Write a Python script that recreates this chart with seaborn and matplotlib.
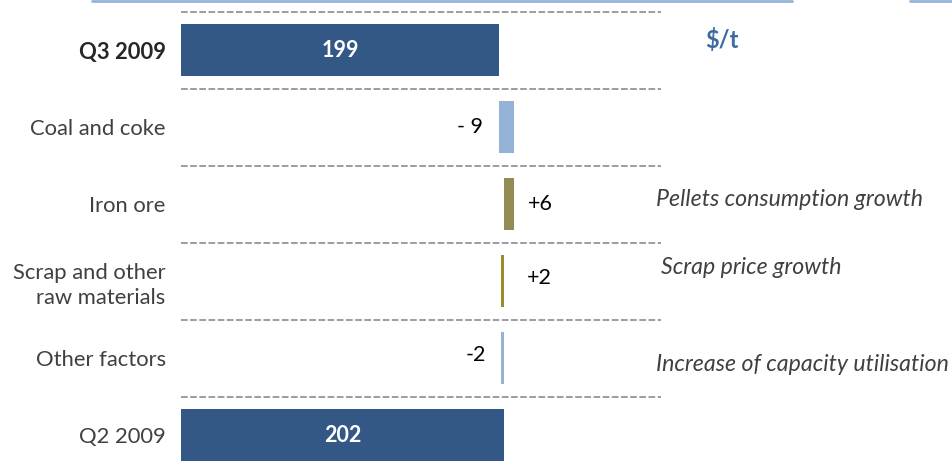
import matplotlib
matplotlib.use("Agg")
import matplotlib.pyplot as plt
import seaborn as sns
import pandas as pd
from matplotlib.lines import Line2D

# ---- data ----
categories = ["Q3 2009", "Coal and coke", "Iron ore",
              "Scrap and other\nraw materials", "Other factors", "Q2 2009"]
q3_total = 199
q2_total = 202
change_names = ["Coal and coke", "Iron ore", "Scrap and other\nraw materials", "Other factors"]
changes = [-9, 6, 2, -2]
change_labels = ["- 9", "+6", "+2", "-2"]
notes = ["Pellets consumption growth", "Scrap price growth", "Increase of capacity utilisation"]
unit_label = "$/t"

# ---- waterfall geometry from data (built from bottom: Q2 -> Q3) ----
lows, highs = {}, {}
level = q2_total
for name, ch in reversed(list(zip(change_names, changes))):
    new = level + ch
    lows[name], highs[name] = min(level, new), max(level, new)
    level = new
lows["Q3 2009"], highs["Q3 2009"] = 0, q3_total
lows["Q2 2009"], highs["Q2 2009"] = 0, q2_total

df = pd.DataFrame({
    "cat": categories,
    "low": [lows[c] for c in categories],
    "high": [highs[c] for c in categories],
})

colors = ["#335886", "#95B3D7", "#948A54", "#9A8D2A", "#95B3D7", "#335886"]

sns.set_theme(style="white")
plt.rcParams["font.family"] = ["Lato", "DejaVu Sans"]

W, H = 952, 469
fig = plt.figure(figsize=(W / 100, H / 100), dpi=100)
ax = fig.add_axes([181 / W, 0, 480 / W, 1])

bar_h = 0.675
sns.barplot(data=df, x="high", y="cat", hue="cat", palette=colors, legend=False,
            width=bar_h, linewidth=0, saturation=1, orient="h", ax=ax)
sns.barplot(data=df, x="low", y="cat", color="white", width=bar_h + 0.02,
            linewidth=0, saturation=1, orient="h", ax=ax)

ax.set_xlim(0, 300)
ax.set_ylim((469 - 50) / 77, -50 / 77)
for s in ax.spines.values():
    s.set_visible(False)
ax.set_xticks([])
ax.set_xlabel("")
ax.set_ylabel("")

# dashed separators
for i in range(6):
    ax.axhline(i - 0.5, color="#8C8C8C", lw=1.2, linestyle=(0, (4, 1.5)), zorder=0)

# y tick labels
ax.set_yticks(range(len(categories)))
ax.set_yticklabels(categories, fontsize=15.8, color="#404040", linespacing=1.3)
ax.tick_params(axis="y", length=0, pad=11)
for lab in ax.get_yticklabels():
    if lab.get_text() == "Q3 2009":
        lab.set_fontweight("bold")
        lab.set_color("#262626")

# total labels
for c, v in [("Q3 2009", q3_total), ("Q2 2009", q2_total)]:
    i = categories.index(c)
    ax.text(v / 2, i, str(v), ha="center", va="center", color="white",
            fontsize=15.5, fontweight="bold")

# change labels
label_gap = {"Coal and coke": 12, "Iron ore": 10, "Scrap and other\nraw materials": 16,
             "Other factors": 11}
label_dy = {"Coal and coke": 0, "Iron ore": 0, "Scrap and other\nraw materials": 2,
            "Other factors": 2}
for name, ch, lab in zip(change_names, changes, change_labels):
    i = categories.index(name)
    if ch < 0:
        ax.annotate(lab, (lows[name], i), xytext=(-label_gap[name], label_dy[name]),
                    textcoords="offset points", ha="right", va="center",
                    fontsize=15.5, color="black")
    else:
        ax.annotate(lab, (highs[name], i), xytext=(label_gap[name], label_dy[name]),
                    textcoords="offset points", ha="left", va="center",
                    fontsize=15.5, color="black")

# right-hand notes
note_pos = [(656, 200), (661, 268), (656, 364)]
for txt, (px, py) in zip(notes, note_pos):
    fig.text(px / W, 1 - py / H, txt, ha="left", va="center", fontsize=16.7,
             style="italic", color="#404040")

fig.text(722 / W, 1 - 40 / H, unit_label, ha="center", va="center", fontsize=17,
         fontweight="bold", color="#3E6BA3")

# top accent line
fig.add_artist(Line2D([92 / W, 792 / W], [1 - 1 / H, 1 - 1 / H], color="#95B3D7", lw=2,
                      transform=fig.transFigure))
fig.add_artist(Line2D([910 / W, 1.0], [1 - 1 / H, 1 - 1 / H], color="#95B3D7", lw=2,
                      transform=fig.transFigure))

fig.savefig("out.png", dpi=100)
